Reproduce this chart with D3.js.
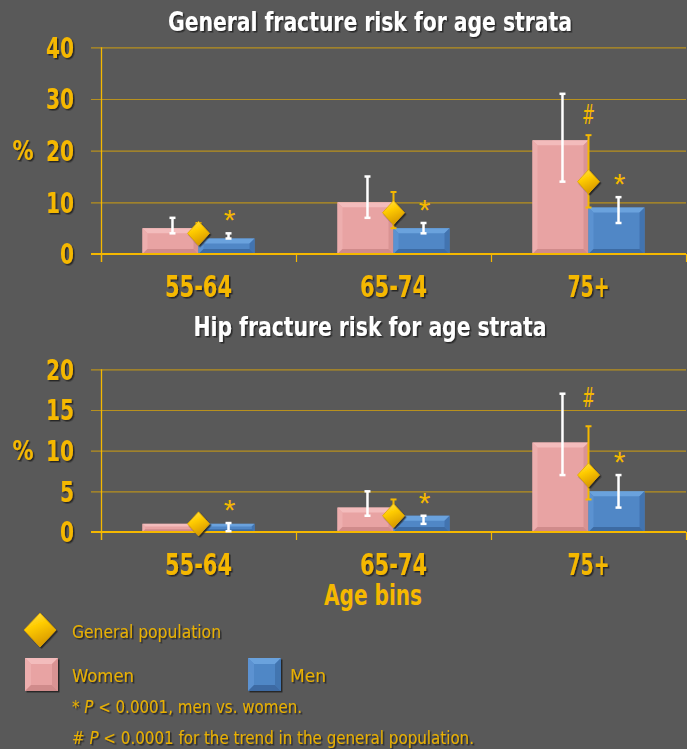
<!DOCTYPE html>
<html>
<head>
<meta charset="utf-8">
<script src="https://cdn.jsdelivr.net/npm/d3@7"></script>
<style>
  html, body { margin: 0; padding: 0; background: #595959; }
  svg { display: block; }
  .cond { font-family: "Liberation Sans Narrow", "DejaVu Sans Condensed", "Roboto Condensed", sans-serif; }
</style>
</head>
<body>
<div id="chart"></div>
<script>
const categories = ["55-64", "65-74", "75+"]
const series = ["Women", "Men"]

// general fracture risk, %
const genWomen = [5, 10, 22]
const genWomenErr = [[4, 7], [7, 15], [14, 31]]
const genMen = [3, 5, 9]
const genMenErr = [[3, 4], [4, 6], [6, 11]]
const genPop = [4, 8, 14]
const genPopErr = [[3, 6], [5, 12], [9, 23]]
const genTicks = [0, 10, 20, 30, 40]

// hip fracture risk, %
const hipWomen = [1, 3, 11]
const hipWomenErr = [[1, 1], [2, 5], [7, 17]]
const hipMen = [1, 2, 5]
const hipMenErr = [[0.1, 1.1], [1, 2], [3, 7]]
const hipPop = [1, 2, 7]
const hipPopErr = [[0.5, 1.8], [1, 4], [4, 13]]
const hipTicks = [0, 5, 10, 15, 20]

const menStar = [true, true, true]
const trendHash = [false, false, true]

const width = 687
const height = 749
const gold = "#f5b800"

const svg = d3.select("#chart")
    .append("svg")
    .attr("width", width)
    .attr("height", height)
    .attr("viewBox", [0, 0, width, height])

const defs = svg.append("defs")
const shadow = defs.append("filter").attr("id", "shadow")
    .attr("x", "-20%").attr("y", "-20%").attr("width", "140%").attr("height", "160%")
shadow.append("feDropShadow")
    .attr("dx", 1.5).attr("dy", 1.5).attr("stdDeviation", 0.7)
    .attr("flood-color", "#1a1a1a").attr("flood-opacity", 0.85)

const dg = defs.append("linearGradient").attr("id", "diamondGrad")
    .attr("x1", 0).attr("y1", 0).attr("x2", 0.4).attr("y2", 1)
dg.append("stop").attr("offset", "0%").attr("stop-color", "#ffe45a")
dg.append("stop").attr("offset", "45%").attr("stop-color", "#ffcc00")
dg.append("stop").attr("offset", "100%").attr("stop-color", "#d99a00")

svg.append("rect")
    .attr("width", width).attr("height", height)
    .attr("fill", "#595959")

const colors = {
    Women: {base: "#e8a3a3", top: "#f3bcbc", left: "#edaeae", right: "#d99393", bottom: "#d08b8b"},
    Men: {base: "#5087c6", top: "#6aa2dd", left: "#5b92d1", right: "#4274b0", bottom: "#3d6ba3"}
}

// bar with bevelled edges
function bevelBar(g, x, y, w, h, c, b) {
    b = Math.min(b, h / 3, w / 3)
    g.append("rect").attr("x", x).attr("y", y).attr("width", w).attr("height", h).attr("fill", c.base)
    const poly = (pts, fill) => g.append("polygon").attr("points", pts.map(p => p.join(",")).join(" ")).attr("fill", fill)
    poly([[x, y], [x + w, y], [x + w - b, y + b], [x + b, y + b]], c.top)
    poly([[x, y], [x + b, y + b], [x + b, y + h - b], [x, y + h]], c.left)
    poly([[x + w, y], [x + w, y + h], [x + w - b, y + h - b], [x + w - b, y + b]], c.right)
    poly([[x, y + h], [x + b, y + h - b], [x + w - b, y + h - b], [x + w, y + h]], c.bottom)
}

function diamond(g, cx, cy, hw, hh) {
    g.append("path")
        .attr("d", `M${cx},${cy - hh}L${cx + hw},${cy}L${cx},${cy + hh}L${cx - hw},${cy}Z`)
        .attr("fill", "url(#diamondGrad)")
        .attr("stroke", "#e0a800")
        .attr("stroke-width", 0.8)
        .attr("filter", "url(#shadow)")
}

function errBar(g, cx, y, range, color, sw) {
    if (range[0] === range[1]) return
    const y1 = y(range[1]), y2 = y(range[0])
    g.append("line").attr("x1", cx).attr("x2", cx).attr("y1", y1).attr("y2", y2)
        .attr("stroke", color).attr("stroke-width", sw)
    g.selectAll(null).data([y1, y2]).enter().append("line")
        .attr("x1", cx - 3).attr("x2", cx + 3).attr("y1", d => d).attr("y2", d => d)
        .attr("stroke", color).attr("stroke-width", sw)
}

// approximate widths of the condensed labels in the original
const catWidth = {"55-64": 67, "65-74": 67, "75+": 42}

function panel(cfg) {
    const g = svg.append("g")
    const x = d3.scaleBand().domain(categories).range([101, 686])
    const xs = d3.scaleBand().domain(series).range([0, x.bandwidth()]).paddingOuter(0.74)
    const y = d3.scaleLinear().domain([0, cfg.max]).range([cfg.y0, cfg.yTop])

    // title
    g.append("text")
        .attr("class", "cond")
        .attr("x", cfg.titleX).attr("y", cfg.titleY)
        .attr("text-anchor", "middle")
        .attr("font-size", 27).attr("font-weight", "bold")
        .attr("fill", "#ffffff")
        .attr("textLength", cfg.titleW).attr("lengthAdjust", "spacingAndGlyphs")
        .attr("filter", "url(#shadow)")
        .text(cfg.title)

    // grid + y labels
    const yAxis = g.append("g")
        .attr("transform", "translate(91,0)")
        .call(d3.axisLeft(y).tickValues(cfg.ticks).tickSize(-(686 - 91)).tickSizeOuter(0).tickPadding(17))
    yAxis.select(".domain").remove()
    yAxis.selectAll(".tick line").attr("stroke", "#b8911e").attr("stroke-width", 1.2)
    yAxis.selectAll(".tick text")
        .attr("class", "cond")
        .attr("font-size", 29).attr("font-weight", "bold")
        .attr("dy", "0.34em")
        .attr("fill", gold)
        .attr("textLength", d => String(d).length * 14)
        .attr("lengthAdjust", "spacingAndGlyphs")
        .attr("filter", "url(#shadow)")

    g.append("text")
        .attr("class", "cond")
        .attr("x", 23).attr("y", (cfg.y0 + cfg.yTop) / 2 + 9)
        .attr("text-anchor", "middle")
        .attr("font-size", 26).attr("font-weight", "bold")
        .attr("fill", gold).attr("filter", "url(#shadow)")
        .attr("textLength", 21).attr("lengthAdjust", "spacingAndGlyphs")
        .text("%")

    // vertical axis line
    g.append("line")
        .attr("x1", 101.5).attr("x2", 101.5).attr("y1", cfg.yTop).attr("y2", cfg.y0 + 8)
        .attr("stroke", gold).attr("stroke-width", 1.3)

    // bars
    const women = cfg.women, men = cfg.men
    categories.forEach((c, i) => {
        const bx = x(c)
        bevelBar(g, bx + xs("Women"), y(women[i]), xs.bandwidth(), y(0) - y(women[i]), colors.Women, 5)
        bevelBar(g, bx + xs("Men"), y(men[i]), xs.bandwidth(), y(0) - y(men[i]), colors.Men, 5)
    })

    // x axis line and ticks
    g.append("line")
        .attr("x1", 91).attr("x2", 686).attr("y1", y(0)).attr("y2", y(0))
        .attr("stroke", gold).attr("stroke-width", 2)
    g.selectAll(null).data(categories.map(c => x(c)).concat([x.range()[1]])).enter()
        .append("line")
        .attr("x1", d => d + 0.5).attr("x2", d => d + 0.5)
        .attr("y1", y(0)).attr("y2", y(0) + 8)
        .attr("stroke", gold).attr("stroke-width", 1.2)

    const xAxis = g.append("g")
        .attr("transform", `translate(0,${y(0)})`)
        .call(d3.axisBottom(x).tickSize(0).tickPadding(cfg.catPad))
    xAxis.select(".domain").remove()
    xAxis.selectAll(".tick text")
        .attr("class", "cond")
        .attr("font-size", 30).attr("font-weight", "bold")
        .attr("fill", gold)
        .attr("textLength", d => catWidth[d])
        .attr("lengthAdjust", "spacingAndGlyphs")
        .attr("filter", "url(#shadow)")

    // error bars, diamonds, annotations
    categories.forEach((c, i) => {
        const cx = x(c) + x.bandwidth() / 2
        const wx = x(c) + xs("Women") + xs.bandwidth() / 2 + 2
        const mx = x(c) + xs("Men") + xs.bandwidth() / 2 + 2
        errBar(g, wx, y, cfg.womenErr[i], "#ffffff", 2.5)
        errBar(g, mx, y, cfg.menErr[i], "#ffffff", 2.5)
        errBar(g, cx, y, cfg.popErr[i], gold, 2)
        diamond(g, cx, y(cfg.pop[i]), 11, 12)
        if (menStar[i]) {
            g.append("text")
                .attr("x", mx + 1).attr("y", y(cfg.menErr[i][1]) - 20 + 17)
                .attr("text-anchor", "middle")
                .attr("font-family", "Liberation Sans, sans-serif")
                .attr("font-size", 30)
                .attr("fill", gold)
                .text("*")
        }
        if (trendHash[i]) {
            g.append("text")
                .attr("class", "cond")
                .attr("x", cx).attr("y", y(cfg.popErr[i][1]) - cfg.hashOff + 9)
                .attr("text-anchor", "middle")
                .attr("font-size", 26)
                .attr("font-style", "italic")
                .attr("fill", gold)
                .attr("textLength", 13).attr("lengthAdjust", "spacingAndGlyphs")
                .text("#")
        }
    })
}

panel({
    title: "General fracture risk for age strata", titleX: 370, titleY: 31, titleW: 404,
    max: 40, ticks: genTicks, y0: 254, yTop: 47.3, catPad: 22, hashOff: 20,
    women: genWomen, womenErr: genWomenErr, men: genMen, menErr: genMenErr, pop: genPop, popErr: genPopErr
})

panel({
    title: "Hip fracture risk for age strata", titleX: 370, titleY: 336, titleW: 353,
    max: 20, ticks: hipTicks, y0: 532, yTop: 369.3, catPad: 22, hashOff: 28,
    women: hipWomen, womenErr: hipWomenErr, men: hipMen, menErr: hipMenErr, pop: hipPop, popErr: hipPopErr
})

svg.append("text")
    .attr("class", "cond")
    .attr("x", 373).attr("y", 605)
    .attr("text-anchor", "middle")
    .attr("font-size", 28).attr("font-weight", "bold")
    .attr("fill", gold)
    .attr("textLength", 98).attr("lengthAdjust", "spacingAndGlyphs")
    .text("Age bins")

// legend
const legend = svg.append("g")
diamond(legend, 40, 630, 16, 17)
const lgText = (x, y, w) => legend.append("text")
    .attr("class", "cond")
    .attr("x", x).attr("y", y)
    .attr("font-size", 17)
    .attr("fill", "#e8b000")
    .attr("textLength", w).attr("lengthAdjust", "spacingAndGlyphs")
    .attr("filter", "url(#shadow)")
lgText(72, 638, 149).text("General population")

const swatches = [{name: "Women", x: 25, tx: 72, tw: 62}, {name: "Men", x: 248, tx: 290, tw: 36}]
swatches.forEach(s => {
    const sg = legend.append("g").attr("filter", "url(#shadow)")
    bevelBar(sg, s.x, 658, 33, 33, colors[s.name], 6)
    lgText(s.tx, 682, s.tw).text(s.name)
})

const n1 = lgText(72, 713, 230)
n1.append("tspan").text("* ")
n1.append("tspan").attr("font-style", "italic").text("P")
n1.append("tspan").text(" < 0.0001, men vs. women.")

const n2 = lgText(72, 744, 402)
n2.append("tspan").text("# ")
n2.append("tspan").attr("font-style", "italic").text("P")
n2.append("tspan").text(" < 0.0001 for the trend in the general population.")
</script>
</body>
</html>
